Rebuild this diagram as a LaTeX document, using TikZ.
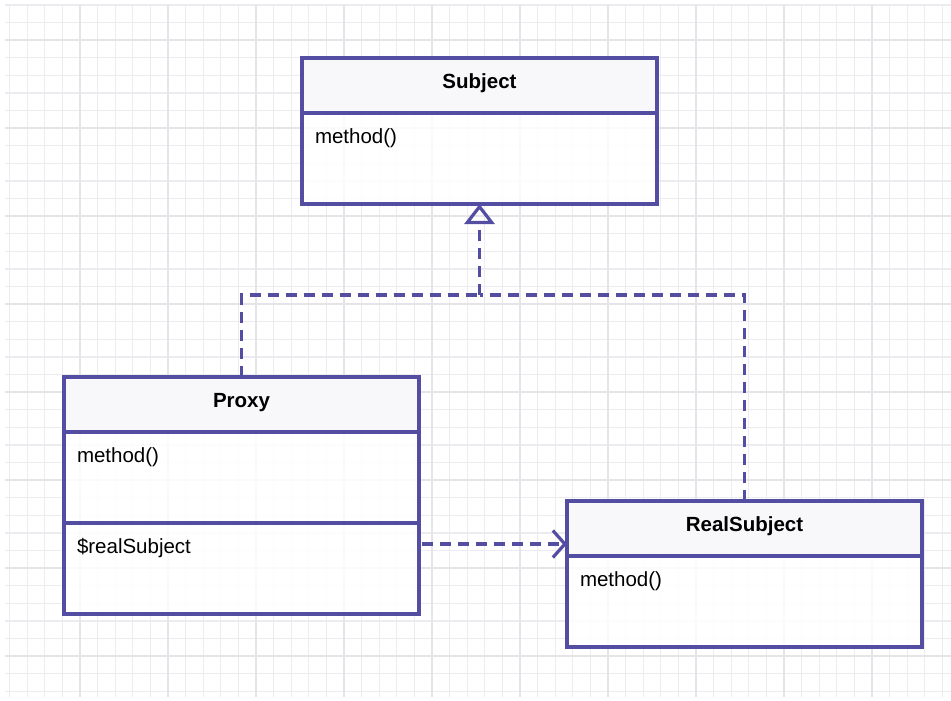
\documentclass[tikz,border=0pt]{standalone}
\usepackage{fontspec}
\setmainfont{Liberation Sans}
\usepackage{tikz}
\usetikzlibrary{arrows.meta, positioning}
\definecolor{umlline}{RGB}{84,78,162}
\definecolor{headfill}{RGB}{248,248,250}
\definecolor{gridminor}{RGB}{236,236,240}
\definecolor{gridmajor}{RGB}{228,228,233}

\begin{document}
\begin{tikzpicture}[
  x=1pt, y=-1pt,
  every node/.style={font=\fontsize{20.5}{24}\selectfont, outer sep=0pt},
  classhead/.style={rectangle, draw=umlline, line width=3.2pt, fill=headfill, minimum width=355, minimum height=55, inner sep=0pt, text depth=8pt, font=\fontsize{20.5}{24}\selectfont\bfseries},
  classbody/.style={rectangle, draw=umlline, line width=3.2pt, fill=white, fill opacity=0.85, text opacity=1, minimum width=355, inner xsep=13pt, inner ysep=0pt, text width=329pt, align=left, text height=30pt, text depth=61pt},
  realize/.style={umlline, line width=3.2pt, dash pattern=on 11pt off 7pt},
  depend/.style={umlline, line width=3.2pt, dash pattern=on 11pt off 7pt, -{Straight Barb[length=12pt, width=27pt, line width=3.2pt]}},
  inherit/.style={-{Triangle[open, length=20pt, width=30pt, line width=3.2pt]}}
]
\useasboundingbox (0,0) rectangle (951,701);

% Grid
\fill[white] (0,0) rectangle (951,701);
\foreach \i in {0,...,53} {
  \draw[gridminor, line width=1.3pt] (9.6+17.6*\i,5) -- (9.6+17.6*\i,697);
}
\foreach \i in {0,...,39} {
  \draw[gridminor, line width=1.3pt] (5,5+17.6*\i) -- (951,5+17.6*\i);
}
\foreach \i in {0,...,10} {
  \draw[gridmajor, line width=1.3pt] (80+88*\i,5) -- (80+88*\i,697);
}
\foreach \i in {0,...,7} {
  \draw[gridmajor, line width=1.3pt] (5,40+88*\i) -- (951,40+88*\i);
}

% Nodes
\node[classhead, anchor=north west] (subjhead) at (302,58) {Subject};
\node[classbody, below=0pt of subjhead] (subjbody) {method()};

\node[classhead, anchor=north west] (proxyhead) at (64,377) {Proxy};
\node[classbody, below=0pt of proxyhead] (proxybody) {method()};
\node[classbody, below=0pt of proxybody] (proxyattr) {\$realSubject};

\node[classhead, anchor=north west] (realhead) at (567,501) {RealSubject};
\node[classbody, below=0pt of realhead] (realbody) {method()};

\coordinate (joint) at (subjbody.south |- 0,295);
\coordinate (depstart) at (422,544);

% Arrows
\draw[realize] (proxyhead.north) |- (joint);
\draw[realize] (realhead.north) |- (joint);
\draw[realize, inherit] (joint) -- (subjbody.south);
\draw[depend] (depstart) -- (realhead.west |- depstart);

\end{tikzpicture}
\end{document}
